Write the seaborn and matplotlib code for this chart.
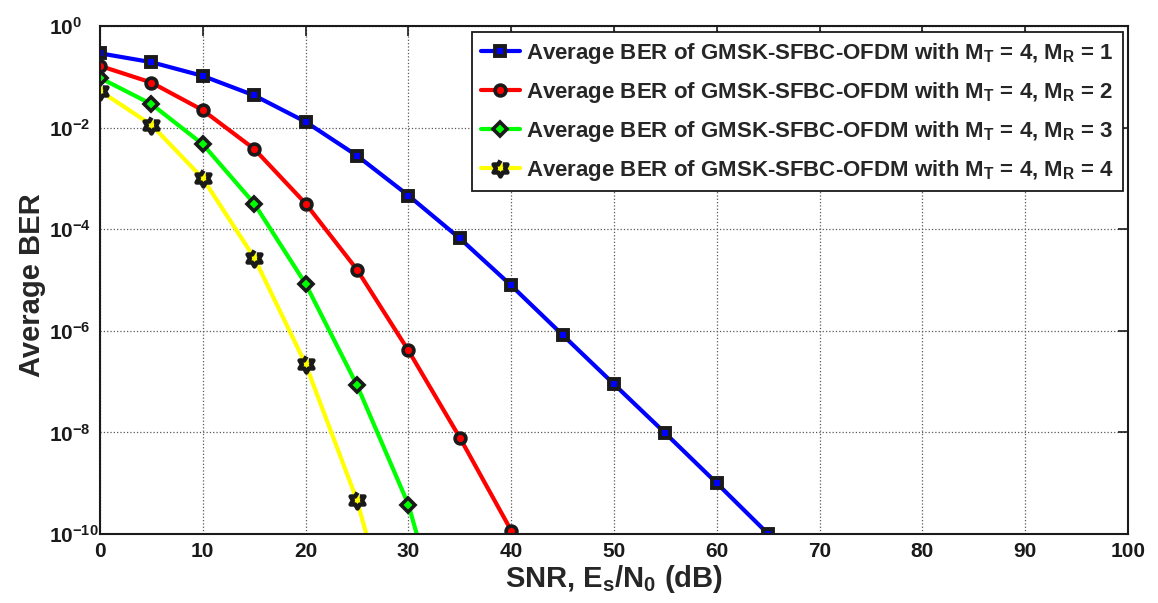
import numpy as np
import matplotlib
matplotlib.use("Agg")
import matplotlib.pyplot as plt
from matplotlib.path import Path
import seaborn as sns

# --- data ---
snr_mr1 = [0, 5, 10, 15, 20, 25, 30, 35, 40, 45, 50, 55, 60, 65]
ber_mr1 = [0.29, 0.194, 0.104, 0.043, 0.013, 2.8e-3, 4.6e-4, 6.6e-5,
           7.8e-6, 8.3e-7, 8.9e-8, 9.6e-9, 1.0e-9, 1.0e-10]

snr_mr2 = [0, 5, 10, 15, 20, 25, 30, 35, 40]
ber_mr2 = [0.164, 0.077, 0.022, 3.8e-3, 3.2e-4, 1.6e-5, 4.1e-7, 7.9e-9, 1.17e-10]

# last point lies below the axis (line runs off the bottom)
snr_mr3 = [0, 5, 10, 15, 20, 25, 30, 35]
ber_mr3 = [0.095, 0.029, 4.7e-3, 3.2e-4, 8.4e-6, 8.5e-8, 3.8e-10, 1e-13]

snr_mr4 = [0, 5, 10, 15, 20, 25, 30]
ber_mr4 = [0.053, 0.0113, 1.0e-3, 2.75e-5, 2.2e-7, 4.6e-10, 1e-13]

labels = [r"Average BER of GMSK-SFBC-OFDM with M$_T$ = 4, M$_R$ = %d" % m
          for m in [1, 2, 3, 4]]

x_ticks = [0, 10, 20, 30, 40, 50, 60, 70, 80, 90, 100]
y_exps = [0, -2, -4, -6, -8, -10]

# --- style ---
sns.set_theme(style="white")
plt.rcParams["font.family"] = ["Liberation Sans", "DejaVu Sans"]
plt.rcParams["font.weight"] = "bold"
plt.rcParams["mathtext.fontset"] = "custom"
plt.rcParams["mathtext.rm"] = "Liberation Sans:bold"
plt.rcParams["mathtext.it"] = "Liberation Sans:bold"
plt.rcParams["mathtext.bf"] = "Liberation Sans:bold"
plt.rcParams["mathtext.default"] = "rm"

# hexagram marker (MATLAB 'h')
ang = np.pi / 2 + np.arange(12) * np.pi / 6
rad = np.where(np.arange(12) % 2 == 0, 1.0, 1 / np.sqrt(3))
hexagram = Path(np.column_stack([rad * np.cos(ang), rad * np.sin(ang)]), closed=False)

series = [
    (snr_mr1, ber_mr1, (0, 0, 1), "s", 7.0, 2.8),
    (snr_mr2, ber_mr2, (1, 0, 0), "o", 7.8, 2.6),
    (snr_mr3, ber_mr3, (0, 1, 0), "D", 7.0, 2.6),
    (snr_mr4, ber_mr4, (1, 1, 0), hexagram, 11.5, 3.2),
]

fig = plt.figure(figsize=(11.58, 6.03), dpi=100)
ax = fig.add_axes([100 / 1158, 69 / 603, 1028 / 1158, 508 / 603])

for (x, y, col, mk, ms, mew), lab in zip(series, labels):
    sns.lineplot(x=x, y=y, ax=ax, color=col, linewidth=3, marker=mk,
                 markersize=ms, markerfacecolor=col, markeredgecolor="k",
                 markeredgewidth=mew, label=lab)

ax.set_yscale("log")
ax.set_xlim(0, 100)
ax.set_ylim(1e-10, 1)
ax.set_xticks(x_ticks, [str(t) for t in x_ticks])
ax.set_yticks([10.0 ** e for e in y_exps],
              [r"$10^{%d}$" % e for e in y_exps])
ax.minorticks_off()
ax.tick_params(axis="both", direction="in", length=7, width=1.2,
               top=True, right=True, labelsize=15, colors="k")
ax.tick_params(axis="x", pad=6)
# MATLAB puts the log labels flush-left
ax.tick_params(axis="y", pad=36.7)
for t in ax.get_yticklabels():
    t.set_horizontalalignment("left")
ax.grid(True, which="major", linestyle=":", color="0.35", linewidth=0.9)
for sp in ax.spines.values():
    sp.set_color("k")
    sp.set_linewidth(1.5)

ax.set_xlabel(r"SNR, E$_s$/N$_0$ (dB)", fontsize=21, fontweight="bold")
ax.set_ylabel("Average BER", fontsize=21, fontweight="bold")
ax.xaxis.set_label_coords(0.5, -0.058)
ax.yaxis.set_label_coords(-0.053, 0.49)

leg = ax.legend(loc="upper right", bbox_to_anchor=(0.995, 0.9876),
                borderaxespad=0, fontsize=16, handlelength=1.76,
                handletextpad=0.27, labelspacing=0.62, fancybox=False,
                framealpha=1, edgecolor="k", borderpad=0.4)
leg.get_frame().set_linewidth(1.3)

fig.savefig("out.png", dpi=100)
